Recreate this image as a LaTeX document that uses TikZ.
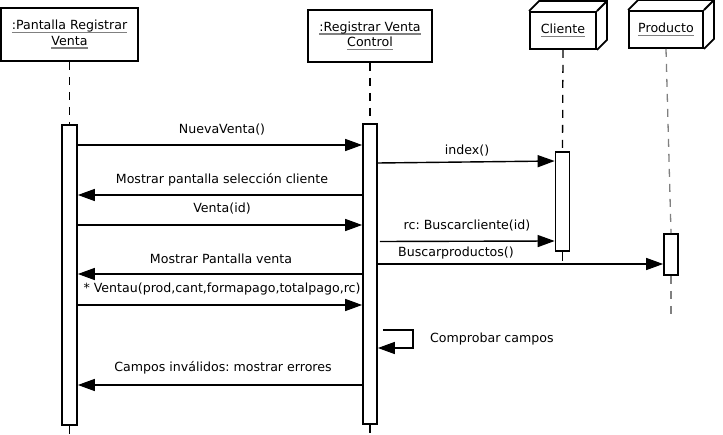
\documentclass[tikz,border=0pt]{standalone}
\usepackage{fontspec}
\setmainfont{DejaVu Sans}
\usetikzlibrary{arrows.meta,calc}
\newsavebox\gulbox
\newcommand\gul[1]{\leavevmode\sbox\gulbox{#1}\rlap{\textcolor{gray}{\rule[-3.5pt]{\wd\gulbox}{1.4pt}}}\usebox\gulbox}
\frenchspacing
\begin{document}
\begin{tikzpicture}[x=1pt,y=-1pt,
  every node/.style={font=\fontsize{12.6}{15.5}\selectfont},
  obj/.style={draw,line width=1.8pt,fill=white,align=center,inner sep=0pt},
  act/.style={draw,line width=1.7pt,fill=white,minimum width=14pt,inner sep=0pt},
  life/.style={line width=1.3pt,dash pattern=on 8pt off 7pt},
  msg/.style={line width=1.4pt,-{Triangle[length=17pt,width=12pt]}},
  lbl/.style={inner sep=0pt,text height=9.5pt,text depth=3pt}]
\useasboundingbox (0,0) rectangle (723,435);
% objects
\node[obj,minimum width=137pt,minimum height=53pt] (pan) at (69.5,34.5) {\gul{:Pantalla Registrar}\\\gul{Venta}};
\node[obj,minimum width=124pt,minimum height=52pt] (ctl) at (370,36) {\gul{:Registrar Venta}\\\gul{Control}};
\node[obj,minimum width=66pt,minimum height=37pt] (cli) at (563,30.5) {\gul{Cliente}};
\node[obj,minimum width=74pt,minimum height=37pt] (pro) at (666,29.5) {\gul{Producto}};
\foreach \n in {cli,pro}{
  \draw[line width=1.8pt,line join=miter] (\n.north west) -- ++(10,-10) -- ($(\n.north east)+(10,-10)$) -- ($(\n.south east)+(10,-10)$) -- (\n.south east);
  \draw[line width=1.8pt] (\n.north east) -- ++(10,-10);
}
% activations
\node[act,minimum width=15pt,minimum height=300pt] (act1) at (69.5,275) {};
\node[act,minimum height=300pt] (act2) at (370,274) {};
\node[act,minimum height=99pt] (act3) at (562.5,201.5) {};
\node[act,minimum height=41pt] (act4) at (671,254.5) {};
% lifelines
\draw[life] (pan.south) -- (act1.north);
\draw[line width=1.3pt] (act1.south) -- ++(0,8);
\draw[life] (ctl.south) -- (act2.north);
\draw[line width=1.3pt] (act2.south) -- ++(0,8);
\draw[life] (cli.south) -- (act3.north);
\draw[line width=1.3pt] (act3.south) -- ++(0,9);
\draw[life,gray] (pro.south) -- (act4.north);
\draw[life,gray] (act4.south) -- ++(0,43);
% messages
\draw[msg] (act1.east |- 0,145) -- (act2.west |- 0,145);
\node[lbl] (l1) at (222,130) {NuevaVenta()};
\draw[msg] (act2.east |- 0,163) -- (act3.west |- 0,161);
\node[lbl] (l2) at (467,151) {index()};
\draw[msg] (act2.west |- 0,195) -- (act1.east |- 0,195);
\node[lbl] (l3) at (222,180) {Mostrar pantalla selección cliente};
\draw[msg] (act1.east |- 0,225) -- (act2.west |- 0,225);
\node[lbl] (l4) at (222,209) {Venta(id)};
\draw[msg] ($(act2.east |- 0,241.5)+(2,0)$) -- (act3.west |- 0,241);
\node[lbl] (l5) at (467,226) {rc: Buscarcliente(id)};
\draw[msg] (act2.east |- 0,264) -- (act4.west |- 0,264);
\node[lbl] (l6) at (456,253) {Buscarproductos()};
\draw[msg] (act2.west |- 0,274) -- (act1.east |- 0,274);
\node[lbl] (l7) at (221,260) {Mostrar Pantalla venta};
\draw[msg] (act1.east |- 0,305) -- (act2.west |- 0,305);
\node[lbl] (l8) at (222,289) {* Ventau(prod,cant,formapago,totalpago,rc)};
\draw[msg] ($(act2.east |- 0,330)+(5,0)$) -| ++(30,18) -- (act2.east |- 0,348);
\node[lbl,anchor=west] (l9) at (430,339) {Comprobar campos};
\draw[msg] (act2.west |- 0,385) -- (act1.east |- 0,385);
\node[lbl] (l10) at (223,368) {Campos inválidos: mostrar errores};
\end{tikzpicture}
\end{document}
